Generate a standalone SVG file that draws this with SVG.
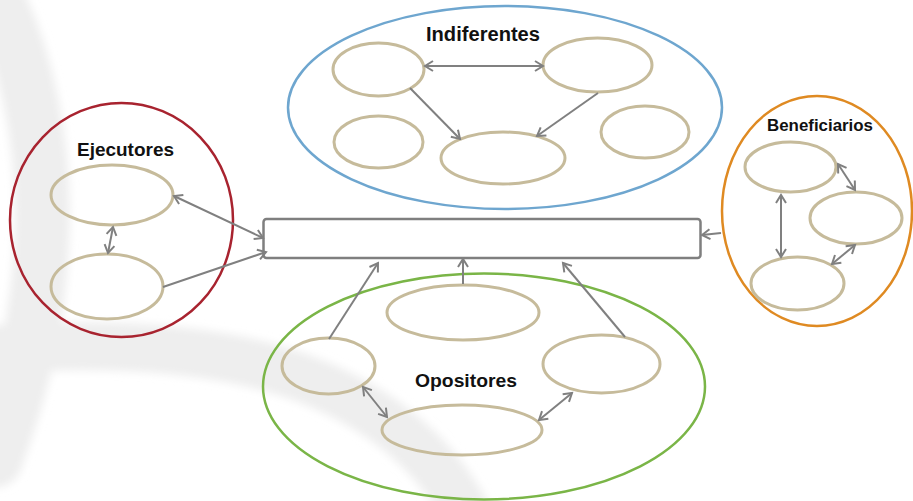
<svg xmlns="http://www.w3.org/2000/svg" width="913" height="501" viewBox="0 0 913 501">
  <defs>
    <style>
      .grp { fill: none; stroke-width: 2.5; }
      .inner { fill: none; stroke: #c6bb9b; stroke-width: 3; }
      .conn { fill: none; stroke: #808080; stroke-width: 2; }
      .lbl { font-family: "Liberation Sans", Arial, sans-serif; font-weight: bold; fill: #111; }
      .wm { fill: none; stroke: #eeeeee; stroke-linecap: round; }
    </style>
    <marker id="ah" markerUnits="userSpaceOnUse" markerWidth="14" markerHeight="14" refX="0" refY="0" viewBox="-10 -7 12 14" orient="auto-start-reverse">
      <path d="M-8,-5 L0,0 L-8,5" fill="none" stroke="#808080" stroke-width="2"/>
    </marker>
    <filter id="soft" x="-20%" y="-20%" width="140%" height="140%">
      <feGaussianBlur stdDeviation="4"/>
    </filter>
  </defs>

  <rect x="0" y="0" width="913" height="501" fill="#ffffff"/>

  <!-- background watermark -->
  <g id="watermark" filter="url(#soft)">
    <path class="wm" stroke-width="55" d="M0,5 C25,60 45,140 42,230 C40,310 25,380 -5,460"/>
    <path class="wm" stroke-width="48" d="M-10,350 C120,340 240,350 320,385 C390,415 440,460 470,520"/>
  </g>

  <!-- central box -->
  <g id="centro">
    <rect x="263.5" y="219" width="437" height="39" rx="3" fill="#ffffff" stroke="#7f7f7f" stroke-width="2.5"/>
  </g>

  <!-- Ejecutores -->
  <g id="ejecutores">
    <ellipse class="grp" cx="121.5" cy="220" rx="111.5" ry="117" stroke="#a8232f"/>
    <text class="lbl" x="125.5" y="156" font-size="19" text-anchor="middle" textLength="97" lengthAdjust="spacingAndGlyphs">Ejecutores</text>
  </g>
  <g id="ejecutores-1"><ellipse class="inner" cx="112" cy="195" rx="61" ry="30"/></g>
  <g id="ejecutores-2"><ellipse class="inner" cx="107" cy="286.5" rx="56" ry="32.5"/></g>

  <!-- Indiferentes -->
  <g id="indiferentes">
    <ellipse class="grp" cx="505" cy="107.5" rx="217" ry="101.5" stroke="#6ea6cf"/>
    <text class="lbl" x="483" y="40.5" font-size="19.5" text-anchor="middle" textLength="114" lengthAdjust="spacingAndGlyphs">Indiferentes</text>
  </g>
  <g id="indiferentes-1"><ellipse class="inner" cx="378.5" cy="69.5" rx="45.5" ry="26.5"/></g>
  <g id="indiferentes-2"><ellipse class="inner" cx="597.5" cy="65" rx="54.5" ry="27"/></g>
  <g id="indiferentes-3"><ellipse class="inner" cx="378.5" cy="142" rx="44.5" ry="26"/></g>
  <g id="indiferentes-4"><ellipse class="inner" cx="503" cy="158" rx="62" ry="26"/></g>
  <g id="indiferentes-5"><ellipse class="inner" cx="645" cy="132" rx="44" ry="26"/></g>

  <!-- Beneficiarios -->
  <g id="beneficiarios">
    <ellipse class="grp" cx="817" cy="211" rx="95" ry="115" stroke="#df8a22"/>
    <text class="lbl" x="820" y="131" font-size="17" text-anchor="middle" textLength="106" lengthAdjust="spacingAndGlyphs">Beneficiarios</text>
  </g>
  <g id="beneficiarios-1"><ellipse class="inner" cx="790.5" cy="167" rx="45.5" ry="25"/></g>
  <g id="beneficiarios-2"><ellipse class="inner" cx="856" cy="218" rx="46" ry="26"/></g>
  <g id="beneficiarios-3"><ellipse class="inner" cx="797.5" cy="283.5" rx="46.5" ry="26.5"/></g>

  <!-- Opositores -->
  <g id="opositores">
    <ellipse class="grp" cx="484" cy="386.5" rx="221" ry="113" stroke="#7ab547"/>
    <text class="lbl" x="466" y="387" font-size="19" text-anchor="middle" textLength="102" lengthAdjust="spacingAndGlyphs">Opositores</text>
  </g>
  <g id="opositores-1"><ellipse class="inner" cx="463" cy="312.5" rx="76" ry="27.5"/></g>
  <g id="opositores-2"><ellipse class="inner" cx="328.5" cy="366" rx="46.5" ry="28"/></g>
  <g id="opositores-3"><ellipse class="inner" cx="601.5" cy="364" rx="58.5" ry="29"/></g>
  <g id="opositores-4"><ellipse class="inner" cx="462" cy="430" rx="80" ry="25"/></g>

  <!-- connectors -->
  <g id="connectors">
    <line class="conn" x1="174" y1="196" x2="263" y2="238" marker-start="url(#ah)" marker-end="url(#ah)"/>
    <line class="conn" x1="163" y1="287" x2="266" y2="252" marker-end="url(#ah)"/>
    <line class="conn" x1="113" y1="227" x2="108" y2="253" marker-start="url(#ah)" marker-end="url(#ah)"/>

    <line class="conn" x1="425" y1="66" x2="543" y2="66" marker-start="url(#ah)" marker-end="url(#ah)"/>
    <line class="conn" x1="410" y1="88" x2="460" y2="139" marker-end="url(#ah)"/>
    <line class="conn" x1="598" y1="93" x2="537" y2="136" marker-end="url(#ah)"/>

    <line class="conn" x1="838" y1="164" x2="855" y2="190" marker-start="url(#ah)" marker-end="url(#ah)"/>
    <line class="conn" x1="781" y1="195" x2="781" y2="257" marker-start="url(#ah)" marker-end="url(#ah)"/>
    <line class="conn" x1="855" y1="245" x2="832" y2="264" marker-start="url(#ah)" marker-end="url(#ah)"/>
    <line class="conn" x1="721" y1="233" x2="702" y2="235" marker-end="url(#ah)"/>

    <line class="conn" x1="329" y1="339" x2="378" y2="263" marker-end="url(#ah)"/>
    <line class="conn" x1="463" y1="284" x2="463" y2="259" marker-end="url(#ah)"/>
    <line class="conn" x1="625" y1="337" x2="563" y2="263" marker-end="url(#ah)"/>
    <line class="conn" x1="363" y1="387" x2="387" y2="417" marker-start="url(#ah)" marker-end="url(#ah)"/>
    <line class="conn" x1="539" y1="420" x2="572" y2="393" marker-start="url(#ah)" marker-end="url(#ah)"/>
  </g>
</svg>
